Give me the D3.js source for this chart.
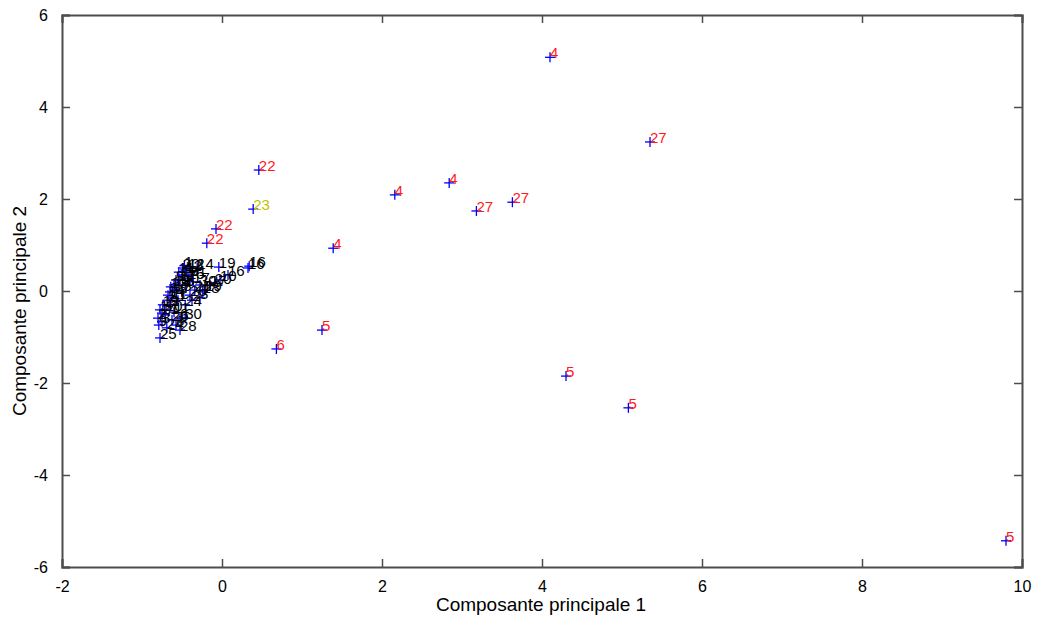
<!DOCTYPE html>
<html><head><meta charset="utf-8">
<script src="https://cdn.jsdelivr.net/npm/d3@7"></script>
<style>body{margin:0;background:#fff}</style>
</head><body>
<script>
// Data (PC1, PC2, label, group colour)
const redX = [4.1, 5.35, 0.46, -0.075, -0.19, 2.16, 2.84, 3.18, 3.63, 1.39, 1.25, 0.68, 4.3, 5.08, 9.8];
const redY = [5.08, 3.24, 2.63, 1.35, 1.04, 2.09, 2.35, 1.74, 1.93, 0.93, -0.85, -1.26, -1.85, -2.54, -5.43];
const redLabels = ["4","27","22","22","22","4","4","27","27","4","5","6","5","5","5"];
const yellowX = [0.39];
const yellowY = [1.78];
const yellowLabels = ["23"];
const blackX = [-0.775,-0.775,-0.80,-0.75,-0.71,-0.65,-0.625,-0.59,-0.55,-0.525,-0.50,-0.46,-0.49,-0.425,-0.40,-0.575,-0.525,-0.46,-0.40,-0.34,-0.275,-0.21,-0.15,-0.31,-0.04,0.075,0.325,0.34,-0.025,-0.65,-0.675,-0.70,-0.60,-0.55,-0.50,-0.45,-0.575,-0.64,-0.425,-0.36,-0.24,-0.09,-0.75,-0.69,-0.625,-0.525,-0.46,-0.79,-0.74,-0.675,-0.60,-0.54,-0.47,-0.375,-0.275];
const blackY = [-1.02,-0.41,-0.59,-0.67,-0.52,-0.30,-0.15,0.02,0.13,0.24,0.35,0.46,0.50,0.50,0.35,-0.74,-0.59,-0.30,-0.09,0.02,0.13,0.02,0.13,0.50,0.52,0.35,0.50,0.54,0.24,-0.02,-0.20,-0.41,-0.46,-0.20,-0.02,0.13,0.24,0.09,0.28,0.20,-0.02,0.17,-0.48,-0.80,-0.63,-0.85,-0.59,-0.74,-0.30,-0.09,0.13,0.41,0.55,-0.20,-0.15];
const blackLabels = ["25","1","2","3","7","9","11","13","15","17","18","12","20","12","21","8","6","24","26","28","30","29","27","14","19","16","16","16","10","3","2","10","11","1","7","8","9","13","15","17","18","20","21","24","26","28","30","9","12","14","19","11","1","2","3"];
const xTicks = [-2,0,2,4,6,8,10];
const yTicks = [-6,-4,-2,0,2,4,6];

const W = 1037, H = 617;
const L = 62, R = 1022, T = 15, B = 567;
const x = d3.scaleLinear().domain([-2,10]).range([L,R]);
const y = d3.scaleLinear().domain([-6,6]).range([B,T]);
const FONT = "Arial, 'Liberation Sans', sans-serif";

const svg = d3.select("body").append("svg").attr("width",W).attr("height",H)
  .style("font-family",FONT);

const groups = [
  {xs: blackX, ys: blackY, ls: blackLabels, col: "#000000"},
  {xs: redX, ys: redY, ls: redLabels, col: "#ff1a1a"},
  {xs: yellowX, ys: yellowY, ls: yellowLabels, col: "#c2c200"}
];

// markers
groups.forEach(g => {
  const pts = g.xs.map((v,i)=>({x:v,y:g.ys[i],l:g.ls[i]}));
  const mk = svg.append("g").selectAll("g").data(pts).join("g")
    .attr("transform", d=>`translate(${x(d.x)},${y(d.y)})`);
  mk.append("line").attr("x1",-5).attr("x2",5).attr("stroke","#0000ff").attr("stroke-width",1.3);
  mk.append("line").attr("y1",-5).attr("y2",5).attr("stroke","#0000ff").attr("stroke-width",1.3);
});
// labels
groups.forEach(g => {
  const pts = g.xs.map((v,i)=>({x:v,y:g.ys[i],l:g.ls[i]}));
  svg.append("g").selectAll("text").data(pts).join("text")
    .attr("x", d=>x(d.x)).attr("y", d=>y(d.y)+1)
    .attr("fill", g.col).attr("font-size", 15)
    .text(d=>d.l);
});

// axes
const fmt = d => String(d);
const axG = svg.append("g");
axG.append("g").attr("transform",`translate(0,${B})`)
  .call(d3.axisBottom(x).tickValues(xTicks).tickSize(-8).tickPadding(14).tickFormat(fmt));
axG.append("g").attr("transform",`translate(0,${T})`)
  .call(d3.axisTop(x).tickValues(xTicks).tickSize(-8).tickFormat(""));
axG.append("g").attr("transform",`translate(${L},0)`)
  .call(d3.axisLeft(y).tickValues(yTicks).tickSize(-8).tickPadding(14).tickFormat(fmt));
axG.append("g").attr("transform",`translate(${R},0)`)
  .call(d3.axisRight(y).tickValues(yTicks).tickSize(-8).tickFormat(""));
axG.selectAll(".domain").attr("stroke","#4d4d4d").attr("stroke-width",2);
axG.selectAll(".tick line").attr("stroke","#4d4d4d").attr("stroke-width",1.5);
axG.selectAll("text").attr("font-size",16).attr("fill","#000").style("font-family",FONT);

svg.append("text").attr("x",(L+R)/2 - 1).attr("y",611).attr("text-anchor","middle")
  .attr("font-size",19).text("Composante principale 1");
svg.append("text").attr("transform",`translate(26,${(T+B)/2 + 20}) rotate(-90)`).attr("text-anchor","middle")
  .attr("font-size",19).text("Composante principale 2");
</script>
</body></html>
